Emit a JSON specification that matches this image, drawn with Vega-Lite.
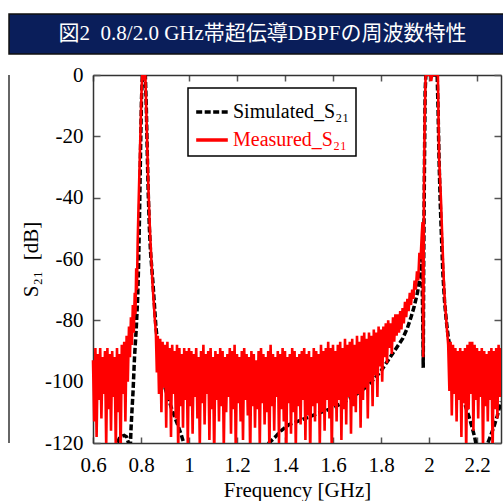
{
"$schema": "https://vega.github.io/schema/vega-lite/v6.json",
"background": "white",
"padding": {"left": 8, "top": 13, "right": 0, "bottom": 0},
"columns": 1,
"spacing": 8,
"resolve": {"scale": {"color": "independent", "strokeDash": "independent", "x": "independent", "y": "independent"}, "legend": {"color": "independent", "strokeDash": "independent"}},
"config": {"view": {"stroke": null}, "font": "Liberation Serif"},
"datasets": {
"d": [
{"f":0.6,"v":-130,"s":"S"},{"f":0.69,"v":-125,"s":"S"},{"f":0.7,"v":-120,"s":"S"},{"f":0.71,"v":-118.5,"s":"S"},{"f":0.72,"v":-117.8,"s":"S"},{"f":0.73,"v":-117.5,"s":"S"},{"f":0.74,"v":-118,"s":"S"},{"f":0.748,"v":-120,"s":"S"},{"f":0.755,"v":-123,"s":"S"},{"f":0.758,"v":-116,"s":"S"},{"f":0.762,"v":-110,"s":"S"},{"f":0.767,"v":-103,"s":"S"},{"f":0.773,"v":-92,"s":"S"},{"f":0.78,"v":-83,"s":"S"},{"f":0.786,"v":-73,"s":"S"},{"f":0.79,"v":-62,"s":"S"},{"f":0.794,"v":-45,"s":"S"},{"f":0.798,"v":-25,"s":"S"},{"f":0.802,"v":-8,"s":"S"},{"f":0.806,"v":0,"s":"S"},{"f":0.818,"v":0,"s":"S"},{"f":0.822,"v":-10,"s":"S"},{"f":0.826,"v":-25,"s":"S"},{"f":0.83,"v":-38,"s":"S"},{"f":0.835,"v":-50,"s":"S"},{"f":0.84,"v":-58,"s":"S"},{"f":0.845,"v":-63,"s":"S"},{"f":0.85,"v":-68,"s":"S"},{"f":0.856,"v":-75,"s":"S"},{"f":0.862,"v":-82,"s":"S"},{"f":0.87,"v":-88,"s":"S"},{"f":0.878,"v":-93,"s":"S"},{"f":0.885,"v":-96.5,"s":"S"},{"f":0.892,"v":-99.5,"s":"S"},{"f":0.9,"v":-102,"s":"S"},{"f":0.91,"v":-104.5,"s":"S"},{"f":0.92,"v":-107,"s":"S"},{"f":0.93,"v":-109.3,"s":"S"},{"f":0.94,"v":-111.4,"s":"S"},{"f":0.955,"v":-114.5,"s":"S"},{"f":0.968,"v":-117.4,"s":"S"},{"f":0.98,"v":-120.5,"s":"S"},{"f":0.995,"v":-124,"s":"S"},{"f":1.05,"v":-130,"s":"S"},{"f":1.25,"v":-130,"s":"S"},{"f":1.3,"v":-124,"s":"S"},{"f":1.333,"v":-120,"s":"S"},{"f":1.36,"v":-118,"s":"S"},{"f":1.383,"v":-116,"s":"S"},{"f":1.417,"v":-114,"s":"S"},{"f":1.45,"v":-113,"s":"S"},{"f":1.5,"v":-111.5,"s":"S"},{"f":1.55,"v":-110,"s":"S"},{"f":1.6,"v":-108.5,"s":"S"},{"f":1.65,"v":-106.5,"s":"S"},{"f":1.7,"v":-104,"s":"S"},{"f":1.75,"v":-101,"s":"S"},{"f":1.8,"v":-96.5,"s":"S"},{"f":1.83,"v":-93,"s":"S"},{"f":1.86,"v":-89.5,"s":"S"},{"f":1.89,"v":-86,"s":"S"},{"f":1.91,"v":-82.5,"s":"S"},{"f":1.925,"v":-79,"s":"S"},{"f":1.938,"v":-75.6,"s":"S"},{"f":1.952,"v":-71,"s":"S"},{"f":1.962,"v":-66,"s":"S"},{"f":1.97,"v":-60,"s":"S"},{"f":1.974,"v":-80,"s":"S"},{"f":1.976,"v":-95.5,"s":"S"},{"f":1.978,"v":-60,"s":"S"},{"f":1.981,"v":-30,"s":"S"},{"f":1.984,"v":-5,"s":"S"},{"f":1.987,"v":0,"s":"S"},{"f":2.034,"v":0,"s":"S"},{"f":2.038,"v":-12,"s":"S"},{"f":2.042,"v":-28,"s":"S"},{"f":2.047,"v":-42,"s":"S"},{"f":2.053,"v":-55,"s":"S"},{"f":2.058,"v":-65,"s":"S"},{"f":2.065,"v":-74,"s":"S"},{"f":2.072,"v":-80,"s":"S"},{"f":2.08,"v":-85.4,"s":"S"},{"f":2.09,"v":-90,"s":"S"},{"f":2.1,"v":-94,"s":"S"},{"f":2.12,"v":-100,"s":"S"},{"f":2.14,"v":-105,"s":"S"},{"f":2.167,"v":-111.5,"s":"S"},{"f":2.18,"v":-115,"s":"S"},{"f":2.19,"v":-118,"s":"S"},{"f":2.2,"v":-122,"s":"S"},{"f":2.21,"v":-127,"s":"S"},{"f":2.225,"v":-125,"s":"S"},{"f":2.24,"v":-121,"s":"S"},{"f":2.255,"v":-118,"s":"S"},{"f":2.27,"v":-114.8,"s":"S"},{"f":2.285,"v":-111,"s":"S"},{"f":2.3,"v":-106.5,"s":"S"},
{"f":0.6,"v":-93,"s":"M"},{"f":0.605,"v":-113,"s":"M"},{"f":0.61,"v":-89,"s":"M"},{"f":0.615,"v":-118,"s":"M"},{"f":0.62,"v":-91,"s":"M"},{"f":0.625,"v":-106,"s":"M"},{"f":0.63,"v":-89,"s":"M"},{"f":0.635,"v":-112,"s":"M"},{"f":0.64,"v":-92,"s":"M"},{"f":0.645,"v":-104,"s":"M"},{"f":0.65,"v":-90,"s":"M"},{"f":0.655,"v":-121,"s":"M"},{"f":0.66,"v":-89,"s":"M"},{"f":0.665,"v":-109,"s":"M"},{"f":0.67,"v":-91,"s":"M"},{"f":0.675,"v":-116,"s":"M"},{"f":0.68,"v":-90,"s":"M"},{"f":0.685,"v":-105,"s":"M"},{"f":0.69,"v":-92,"s":"M"},{"f":0.695,"v":-122,"s":"M"},{"f":0.7,"v":-89,"s":"M"},{"f":0.705,"v":-110,"s":"M"},{"f":0.71,"v":-91,"s":"M"},{"f":0.715,"v":-125,"s":"M"},{"f":0.72,"v":-88,"s":"M"},{"f":0.725,"v":-104,"s":"M"},{"f":0.73,"v":-87,"s":"M"},{"f":0.735,"v":-113,"s":"M"},{"f":0.74,"v":-85,"s":"M"},{"f":0.745,"v":-100,"s":"M"},{"f":0.75,"v":-82,"s":"M"},{"f":0.754,"v":-92,"s":"M"},{"f":0.758,"v":-79,"s":"M"},{"f":0.762,"v":-88,"s":"M"},{"f":0.766,"v":-75,"s":"M"},{"f":0.77,"v":-84,"s":"M"},{"f":0.774,"v":-71,"s":"M"},{"f":0.777,"v":-78,"s":"M"},{"f":0.78,"v":-63,"s":"M"},{"f":0.783,"v":-70,"s":"M"},{"f":0.786,"v":-55,"s":"M"},{"f":0.79,"v":-42,"s":"M"},{"f":0.794,"v":-30,"s":"M"},{"f":0.798,"v":-18,"s":"M"},{"f":0.802,"v":-6,"s":"M"},{"f":0.805,"v":0,"s":"M"},{"f":0.812,"v":-1,"s":"M"},{"f":0.818,"v":0,"s":"M"},{"f":0.821,"v":-8,"s":"M"},{"f":0.825,"v":-20,"s":"M"},{"f":0.829,"v":-32,"s":"M"},{"f":0.833,"v":-42,"s":"M"},{"f":0.838,"v":-52,"s":"M"},{"f":0.843,"v":-60,"s":"M"},{"f":0.848,"v":-68,"s":"M"},{"f":0.853,"v":-74,"s":"M"},{"f":0.858,"v":-80,"s":"M"},{"f":0.862,"v":-84,"s":"M"},{"f":0.866,"v":-97,"s":"M"},{"f":0.87,"v":-85,"s":"M"},{"f":0.875,"v":-104,"s":"M"},{"f":0.88,"v":-86,"s":"M"},{"f":0.885,"v":-110,"s":"M"},{"f":0.89,"v":-87,"s":"M"},{"f":0.895,"v":-102,"s":"M"},{"f":0.9,"v":-88,"s":"M"},{"f":0.905,"v":-115,"s":"M"},{"f":0.91,"v":-87,"s":"M"},{"f":0.915,"v":-106,"s":"M"},{"f":0.92,"v":-89,"s":"M"},{"f":0.925,"v":-118,"s":"M"},{"f":0.93,"v":-88,"s":"M"},{"f":0.935,"v":-104,"s":"M"},{"f":0.94,"v":-90,"s":"M"},{"f":0.945,"v":-112,"s":"M"},{"f":0.95,"v":-88,"s":"M"},{"f":0.955,"v":-123,"s":"M"},{"f":0.96,"v":-89,"s":"M"},{"f":0.965,"v":-108,"s":"M"},{"f":0.97,"v":-91,"s":"M"},{"f":0.975,"v":-115,"s":"M"},{"f":0.98,"v":-89,"s":"M"},{"f":0.985,"v":-106,"s":"M"},{"f":0.99,"v":-90,"s":"M"},{"f":0.995,"v":-121,"s":"M"},
{"f":1.0,"v":-89,"s":"M"},{"f":1.005,"v":-108,"s":"M"},{"f":1.01,"v":-90,"s":"M"},{"f":1.015,"v":-117,"s":"M"},{"f":1.02,"v":-91,"s":"M"},{"f":1.025,"v":-105,"s":"M"},{"f":1.03,"v":-89,"s":"M"},{"f":1.035,"v":-112,"s":"M"},{"f":1.04,"v":-92,"s":"M"},{"f":1.045,"v":-121,"s":"M"},{"f":1.05,"v":-90,"s":"M"},{"f":1.055,"v":-107,"s":"M"},{"f":1.06,"v":-88,"s":"M"},{"f":1.065,"v":-114,"s":"M"},{"f":1.07,"v":-91,"s":"M"},{"f":1.075,"v":-104,"s":"M"},{"f":1.08,"v":-90,"s":"M"},{"f":1.085,"v":-119,"s":"M"},{"f":1.09,"v":-89,"s":"M"},{"f":1.095,"v":-109,"s":"M"},{"f":1.1,"v":-92,"s":"M"},{"f":1.105,"v":-125,"s":"M"},{"f":1.11,"v":-90,"s":"M"},{"f":1.115,"v":-106,"s":"M"},{"f":1.12,"v":-91,"s":"M"},{"f":1.125,"v":-113,"s":"M"},{"f":1.13,"v":-89,"s":"M"},{"f":1.135,"v":-108,"s":"M"},{"f":1.14,"v":-90,"s":"M"},{"f":1.145,"v":-122,"s":"M"},{"f":1.15,"v":-92,"s":"M"},{"f":1.155,"v":-110,"s":"M"},{"f":1.16,"v":-91,"s":"M"},{"f":1.165,"v":-105,"s":"M"},{"f":1.17,"v":-89,"s":"M"},{"f":1.175,"v":-117,"s":"M"},{"f":1.18,"v":-90,"s":"M"},{"f":1.185,"v":-109,"s":"M"},{"f":1.19,"v":-88,"s":"M"},{"f":1.195,"v":-124,"s":"M"},{"f":1.2,"v":-91,"s":"M"},{"f":1.205,"v":-107,"s":"M"},{"f":1.21,"v":-92,"s":"M"},{"f":1.215,"v":-113,"s":"M"},{"f":1.22,"v":-90,"s":"M"},{"f":1.225,"v":-119,"s":"M"},{"f":1.23,"v":-89,"s":"M"},{"f":1.235,"v":-106,"s":"M"},{"f":1.24,"v":-91,"s":"M"},{"f":1.245,"v":-111,"s":"M"},{"f":1.25,"v":-92,"s":"M"},{"f":1.255,"v":-125,"s":"M"},{"f":1.26,"v":-90,"s":"M"},{"f":1.265,"v":-108,"s":"M"},{"f":1.27,"v":-91,"s":"M"},{"f":1.275,"v":-115,"s":"M"},{"f":1.28,"v":-93,"s":"M"},{"f":1.285,"v":-109,"s":"M"},{"f":1.29,"v":-90,"s":"M"},{"f":1.295,"v":-121,"s":"M"},{"f":1.3,"v":-89,"s":"M"},{"f":1.305,"v":-107,"s":"M"},{"f":1.31,"v":-91,"s":"M"},{"f":1.315,"v":-114,"s":"M"},{"f":1.32,"v":-92,"s":"M"},{"f":1.325,"v":-110,"s":"M"},{"f":1.33,"v":-90,"s":"M"},{"f":1.335,"v":-123,"s":"M"},{"f":1.34,"v":-88,"s":"M"},{"f":1.345,"v":-108,"s":"M"},{"f":1.35,"v":-91,"s":"M"},{"f":1.355,"v":-116,"s":"M"},{"f":1.36,"v":-92,"s":"M"},{"f":1.365,"v":-105,"s":"M"},{"f":1.37,"v":-90,"s":"M"},{"f":1.375,"v":-120,"s":"M"},{"f":1.38,"v":-91,"s":"M"},{"f":1.385,"v":-109,"s":"M"},{"f":1.39,"v":-89,"s":"M"},{"f":1.395,"v":-113,"s":"M"},{"f":1.4,"v":-90,"s":"M"},{"f":1.405,"v":-126,"s":"M"},{"f":1.41,"v":-92,"s":"M"},{"f":1.415,"v":-107,"s":"M"},{"f":1.42,"v":-91,"s":"M"},{"f":1.425,"v":-117,"s":"M"},{"f":1.43,"v":-89,"s":"M"},{"f":1.435,"v":-110,"s":"M"},{"f":1.44,"v":-90,"s":"M"},{"f":1.445,"v":-122,"s":"M"},{"f":1.45,"v":-92,"s":"M"},{"f":1.455,"v":-108,"s":"M"},{"f":1.46,"v":-91,"s":"M"},{"f":1.465,"v":-114,"s":"M"},{"f":1.47,"v":-90,"s":"M"},{"f":1.475,"v":-106,"s":"M"},{"f":1.48,"v":-89,"s":"M"},{"f":1.485,"v":-119,"s":"M"},{"f":1.49,"v":-91,"s":"M"},{"f":1.495,"v":-111,"s":"M"},{"f":1.5,"v":-90,"s":"M"},{"f":1.505,"v":-124,"s":"M"},{"f":1.51,"v":-92,"s":"M"},{"f":1.515,"v":-108,"s":"M"},{"f":1.52,"v":-89,"s":"M"},{"f":1.525,"v":-113,"s":"M"},{"f":1.53,"v":-90,"s":"M"},{"f":1.535,"v":-107,"s":"M"},{"f":1.54,"v":-91,"s":"M"},{"f":1.545,"v":-121,"s":"M"},{"f":1.55,"v":-88,"s":"M"},{"f":1.555,"v":-110,"s":"M"},{"f":1.56,"v":-90,"s":"M"},{"f":1.565,"v":-116,"s":"M"},{"f":1.57,"v":-89,"s":"M"},{"f":1.575,"v":-106,"s":"M"},{"f":1.58,"v":-87,"s":"M"},{"f":1.585,"v":-112,"s":"M"},{"f":1.59,"v":-89,"s":"M"},{"f":1.595,"v":-124,"s":"M"},{"f":1.6,"v":-88,"s":"M"},{"f":1.605,"v":-108,"s":"M"},{"f":1.61,"v":-90,"s":"M"},{"f":1.615,"v":-113,"s":"M"},{"f":1.62,"v":-88,"s":"M"},{"f":1.625,"v":-106,"s":"M"},{"f":1.63,"v":-87,"s":"M"},{"f":1.635,"v":-119,"s":"M"},{"f":1.64,"v":-89,"s":"M"},{"f":1.645,"v":-109,"s":"M"},{"f":1.65,"v":-86,"s":"M"},{"f":1.655,"v":-114,"s":"M"},{"f":1.66,"v":-88,"s":"M"},{"f":1.665,"v":-105,"s":"M"},{"f":1.67,"v":-87,"s":"M"},{"f":1.675,"v":-117,"s":"M"},{"f":1.68,"v":-86,"s":"M"},{"f":1.685,"v":-108,"s":"M"},{"f":1.69,"v":-88,"s":"M"},{"f":1.695,"v":-110,"s":"M"},{"f":1.7,"v":-85,"s":"M"},{"f":1.705,"v":-104,"s":"M"},{"f":1.71,"v":-87,"s":"M"},{"f":1.715,"v":-115,"s":"M"},{"f":1.72,"v":-85,"s":"M"},{"f":1.725,"v":-106,"s":"M"},{"f":1.73,"v":-84,"s":"M"},{"f":1.735,"v":-102,"s":"M"},{"f":1.74,"v":-86,"s":"M"},{"f":1.745,"v":-112,"s":"M"},{"f":1.75,"v":-84,"s":"M"},{"f":1.755,"v":-100,"s":"M"},{"f":1.76,"v":-85,"s":"M"},{"f":1.765,"v":-108,"s":"M"},{"f":1.77,"v":-83,"s":"M"},{"f":1.775,"v":-98,"s":"M"},{"f":1.78,"v":-84,"s":"M"},{"f":1.785,"v":-105,"s":"M"},{"f":1.79,"v":-82,"s":"M"},{"f":1.795,"v":-95,"s":"M"},{"f":1.8,"v":-83,"s":"M"},{"f":1.805,"v":-100,"s":"M"},{"f":1.81,"v":-82,"s":"M"},{"f":1.815,"v":-92,"s":"M"},{"f":1.82,"v":-81,"s":"M"},{"f":1.825,"v":-94,"s":"M"},{"f":1.83,"v":-80,"s":"M"},{"f":1.835,"v":-89,"s":"M"},{"f":1.84,"v":-81,"s":"M"},{"f":1.845,"v":-91,"s":"M"},{"f":1.85,"v":-79,"s":"M"},{"f":1.855,"v":-87,"s":"M"},{"f":1.86,"v":-78,"s":"M"},{"f":1.865,"v":-85,"s":"M"},{"f":1.87,"v":-78,"s":"M"},{"f":1.875,"v":-84,"s":"M"},{"f":1.88,"v":-77,"s":"M"},{"f":1.885,"v":-83,"s":"M"},{"f":1.89,"v":-76,"s":"M"},{"f":1.895,"v":-81,"s":"M"},{"f":1.9,"v":-74,"s":"M"},{"f":1.905,"v":-79,"s":"M"},{"f":1.91,"v":-73,"s":"M"},{"f":1.915,"v":-77,"s":"M"},{"f":1.92,"v":-71,"s":"M"},{"f":1.925,"v":-75,"s":"M"},{"f":1.93,"v":-70,"s":"M"},{"f":1.935,"v":-73,"s":"M"},{"f":1.94,"v":-67,"s":"M"},{"f":1.945,"v":-70,"s":"M"},{"f":1.95,"v":-64,"s":"M"},{"f":1.955,"v":-67,"s":"M"},{"f":1.96,"v":-58,"s":"M"},{"f":1.965,"v":-60,"s":"M"},{"f":1.97,"v":-52,"s":"M"},{"f":1.973,"v":-48,"s":"M"},{"f":1.976,"v":-92,"s":"M"},{"f":1.979,"v":-40,"s":"M"},{"f":1.982,"v":-15,"s":"M"},{"f":1.986,"v":0,"s":"M"},{"f":2.005,"v":0,"s":"M"},{"f":2.009,"v":-2,"s":"M"},{"f":2.013,"v":0,"s":"M"},{"f":2.037,"v":0,"s":"M"},{"f":2.042,"v":-27,"s":"M"},{"f":2.05,"v":-41,"s":"M"},{"f":2.056,"v":-55,"s":"M"},{"f":2.061,"v":-66,"s":"M"},{"f":2.066,"v":-74,"s":"M"},{"f":2.072,"v":-80,"s":"M"},{"f":2.078,"v":-86,"s":"M"},{"f":2.08,"v":-88,"s":"M"},{"f":2.085,"v":-103,"s":"M"},{"f":2.09,"v":-87,"s":"M"},{"f":2.095,"v":-111,"s":"M"},{"f":2.1,"v":-88,"s":"M"},{"f":2.105,"v":-104,"s":"M"},{"f":2.11,"v":-89,"s":"M"},{"f":2.115,"v":-113,"s":"M"},{"f":2.12,"v":-90,"s":"M"},{"f":2.125,"v":-106,"s":"M"},{"f":2.13,"v":-89,"s":"M"},{"f":2.135,"v":-118,"s":"M"},{"f":2.14,"v":-90,"s":"M"},{"f":2.145,"v":-107,"s":"M"},{"f":2.15,"v":-89,"s":"M"},{"f":2.155,"v":-123,"s":"M"},{"f":2.16,"v":-88,"s":"M"},{"f":2.165,"v":-109,"s":"M"},{"f":2.17,"v":-87,"s":"M"},{"f":2.175,"v":-104,"s":"M"},{"f":2.18,"v":-87,"s":"M"},{"f":2.185,"v":-116,"s":"M"},{"f":2.19,"v":-88,"s":"M"},{"f":2.195,"v":-106,"s":"M"},{"f":2.2,"v":-89,"s":"M"},{"f":2.205,"v":-112,"s":"M"},{"f":2.21,"v":-90,"s":"M"},{"f":2.215,"v":-105,"s":"M"},{"f":2.22,"v":-89,"s":"M"},{"f":2.225,"v":-122,"s":"M"},{"f":2.23,"v":-90,"s":"M"},{"f":2.235,"v":-108,"s":"M"},{"f":2.24,"v":-91,"s":"M"},{"f":2.245,"v":-113,"s":"M"},{"f":2.25,"v":-90,"s":"M"},{"f":2.255,"v":-106,"s":"M"},{"f":2.26,"v":-89,"s":"M"},{"f":2.265,"v":-124,"s":"M"},{"f":2.27,"v":-90,"s":"M"},{"f":2.275,"v":-109,"s":"M"},{"f":2.28,"v":-89,"s":"M"},{"f":2.285,"v":-112,"s":"M"},{"f":2.29,"v":-88,"s":"M"},{"f":2.295,"v":-105,"s":"M"},{"f":2.3,"v":-89,"s":"M"}
]
},
"concat": [
{
"width": 495,
"height": 40,
"view": {"fill": "#0a1e5a", "stroke": "#111111", "strokeWidth": 1.5},
"data": {"values": [{"t": "図2\u00a0 0.8/2.0 GHz帯超伝導DBPFの周波数特性"}]},
"mark": {"type": "text", "color": "white", "font": "Liberation Serif, Noto Sans CJK JP", "fontSize": 21, "dx": 6},
"encoding": {"text": {"field": "t"}}
},
{
"width": 492,
"height": 368,
"view": {"stroke": "#333333", "strokeWidth": 1.5, "strokeDash": [0, 1352, 368, 10]},
"data": {"name": "d"},
"resolve": {"axis": {"x": "independent", "y": "independent"}},
"layer": [
{
"transform": [{"filter": "datum.s == 'S'"}],
"mark": {"type": "line", "clip": true, "strokeWidth": 3.5, "strokeCap": "butt"},
"encoding": {
"x": {"field": "f", "type": "quantitative", "scale": {"domain": [0.6, 2.3], "range": [84, 492], "nice": false, "zero": false},
"axis": {"orient": "bottom", "values": [0.6, 0.8, 1, 1.2, 1.4, 1.6, 1.8, 2, 2.2], "format": "~g", "labelFlush": false, "labelOverlap": false, "tickSize": -6, "tickWidth": 1.5, "tickColor": "#555555", "domainColor": "#333333", "domainWidth": 1.5, "labelPadding": 17, "labelFont": "Liberation Serif", "labelFontSize": 21, "labelColor": "black", "title": "Frequency [GHz]", "titleFont": "Liberation Serif", "titleFontSize": 21, "titleFontWeight": "normal", "titleColor": "black", "titlePadding": 4, "grid": false}},
"y": {"field": "v", "type": "quantitative", "scale": {"domain": [-120, 0], "nice": false, "zero": false},
"axis": {"orient": "left", "offset": -84, "values": [-120, -100, -80, -60, -40, -20, 0], "labelExpr": "'' + datum.value", "labelFlush": false, "labelOverlap": false, "tickSize": -7, "tickWidth": 1.5, "tickColor": "#555555", "domainColor": "#333333", "domainWidth": 1.5, "labelPadding": 17, "labelFont": "Liberation Serif", "labelFontSize": 21, "labelColor": "black", "title": "S₂₁\u00a0 [dB]", "titleFont": "Liberation Serif", "titleFontSize": 21, "titleFontWeight": "normal", "titleColor": "black", "titlePadding": 3, "grid": false}},
"color": {"field": "s", "type": "nominal", "scale": {"domain": ["S", "M"], "range": ["black", "#ff0000"]},
"legend": {"orient": "none", "legendX": 179, "legendY": 13, "title": null, "strokeColor": "black", "fillColor": "white", "padding": 6, "rowPadding": -1, "symbolType": "stroke", "symbolSize": 1000, "symbolStrokeWidth": 3.5, "labelFont": "Liberation Serif", "labelFontSize": 20, "labelLimit": 300, "labelOffset": 3, "labelExpr": "datum.value == 'S' ? 'Simulated_S₂₁' : 'Measured_S₂₁'", "encode": {"legend": {"update": {"strokeWidth": {"value": 1.5}}}, "labels": {"update": {"fill": {"signal": "datum.value == 'M' ? '#ff0000' : 'black'"}}}}}},
"strokeDash": {"field": "s", "type": "nominal", "scale": {"domain": ["S", "M"], "range": [[6, 2.5], [1, 0]]},
"legend": {"orient": "none", "legendX": 179, "legendY": 13, "title": null, "strokeColor": "black", "fillColor": "white", "padding": 6, "rowPadding": -1, "symbolType": "stroke", "symbolSize": 1000, "symbolStrokeWidth": 3.5, "labelFont": "Liberation Serif", "labelFontSize": 20, "labelLimit": 300, "labelOffset": 3, "labelExpr": "datum.value == 'S' ? 'Simulated_S₂₁' : 'Measured_S₂₁'", "encode": {"legend": {"update": {"strokeWidth": {"value": 1.5}}}, "labels": {"update": {"fill": {"signal": "datum.value == 'M' ? '#ff0000' : 'black'"}}}}}}
}
},
{
"transform": [{"filter": "datum.s == 'M'"}],
"mark": {"type": "line", "clip": true, "strokeWidth": 2.6},
"encoding": {
"x": {"field": "f", "type": "quantitative", "scale": {"domain": [0.6, 2.3], "range": [84, 492], "nice": false, "zero": false},
"axis": {"orient": "top", "values": [0.6, 0.8, 1, 1.2, 1.4, 1.6, 1.8, 2, 2.2], "labels": false, "title": null, "tickSize": -6, "tickWidth": 1.5, "tickColor": "#555555", "domainColor": "#333333", "domainWidth": 1.5, "grid": false}},
"y": {"field": "v", "type": "quantitative", "scale": {"domain": [-120, 0], "nice": false, "zero": false},
"axis": {"orient": "right", "values": [-120, -100, -80, -60, -40, -20, 0], "labels": false, "title": null, "tickSize": -7, "tickWidth": 1.5, "tickColor": "#555555", "domainColor": "#333333", "domainWidth": 1.5, "grid": false}},
"color": {"field": "s", "type": "nominal"},
"strokeDash": {"field": "s", "type": "nominal"}
}
}
]
}
]
}
